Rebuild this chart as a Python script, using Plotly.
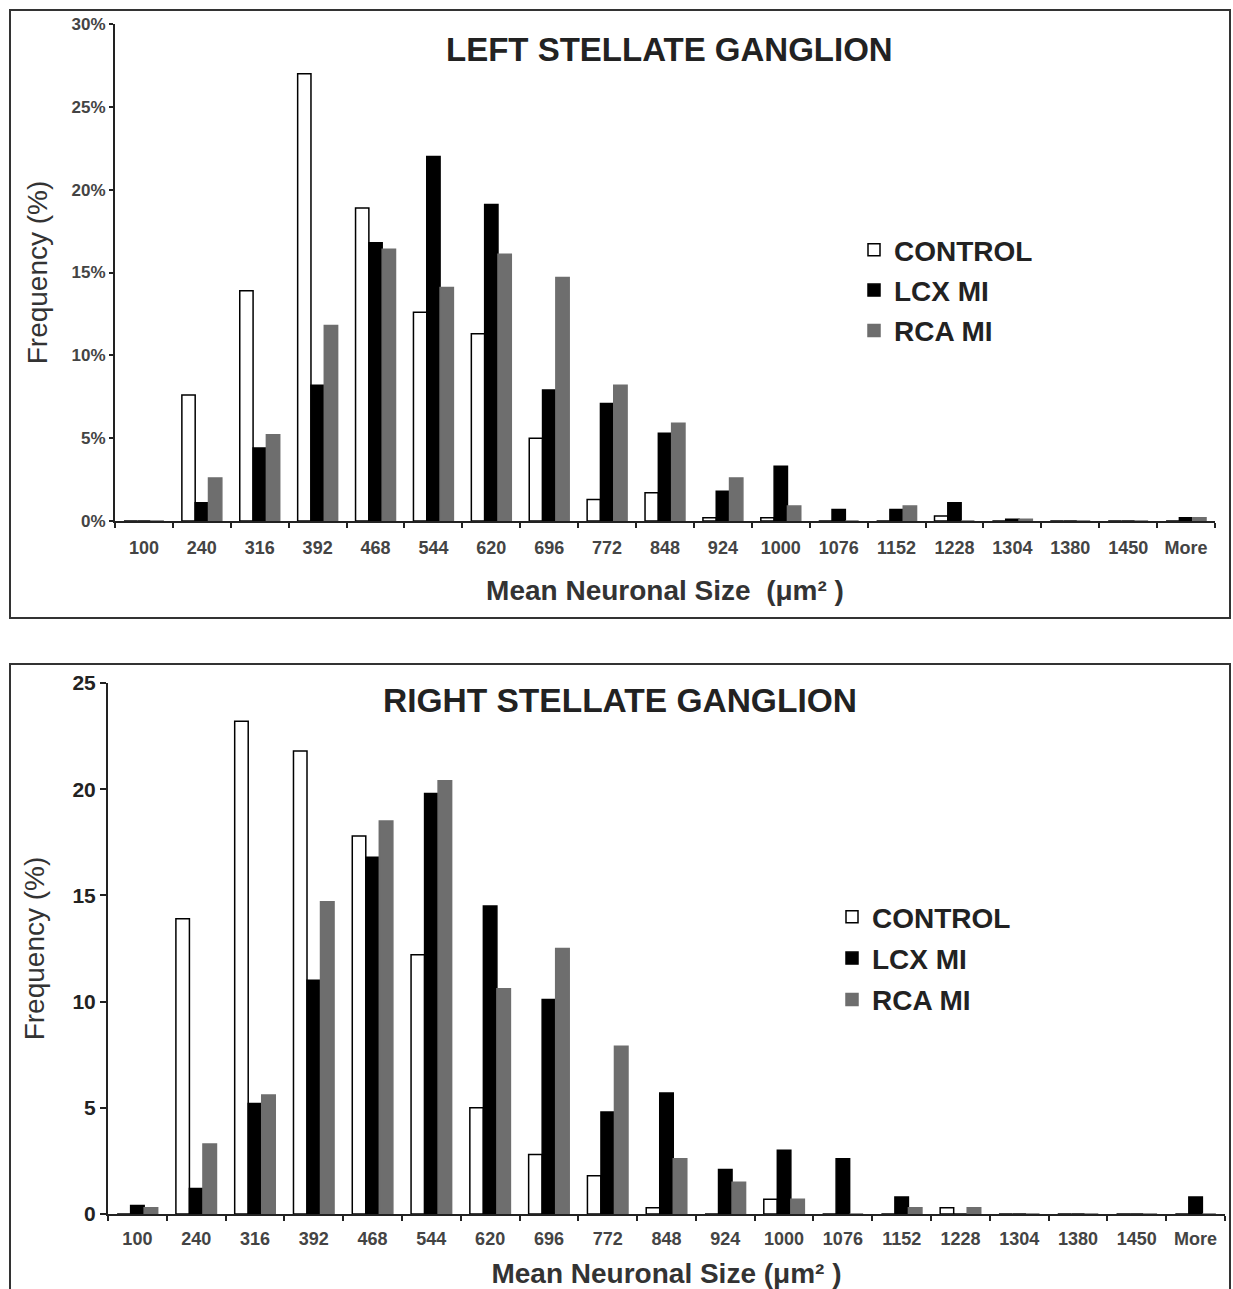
import plotly.graph_objects as go

categories = ["100", "240", "316", "392", "468", "544", "620", "696", "772", "848",
              "924", "1000", "1076", "1152", "1228", "1304", "1380", "1450", "More"]

left_control = [0, 7.6, 13.9, 27.0, 18.9, 12.6, 11.3, 5.0, 1.3, 1.7, 0.2, 0.2, 0, 0, 0.3, 0, 0, 0, 0]
left_lcx = [0, 1.1, 4.4, 8.2, 16.8, 22.0, 19.1, 7.9, 7.1, 5.3, 1.8, 3.3, 0.7, 0.7, 1.1, 0.1, 0, 0, 0.2]
left_rca = [0, 2.6, 5.2, 11.8, 16.4, 14.1, 16.1, 14.7, 8.2, 5.9, 2.6, 0.9, 0, 0.9, 0, 0.1, 0, 0, 0.2]

right_control = [0, 13.9, 23.2, 21.8, 17.8, 12.2, 5.0, 2.8, 1.8, 0.3, 0, 0.7, 0, 0, 0.3, 0, 0, 0, 0]
right_lcx = [0.4, 1.2, 5.2, 11.0, 16.8, 19.8, 14.5, 10.1, 4.8, 5.7, 2.1, 3.0, 2.6, 0.8, 0, 0, 0, 0, 0.8]
right_rca = [0.3, 3.3, 5.6, 14.7, 18.5, 20.4, 10.6, 12.5, 7.9, 2.6, 1.5, 0.7, 0, 0.3, 0.3, 0, 0, 0, 0]

series_names = ["CONTROL", "LCX MI", "RCA MI"]
left_ticks = [0, 5, 10, 15, 20, 25, 30]
left_ticktext = ["0%", "5%", "10%", "15%", "20%", "25%", "30%"]
right_ticks = [0, 5, 10, 15, 20, 25]

W, H = 1233, 1289
FONT = "Liberation Sans, Arial, sans-serif"
TXT = "#222222"

fills = ["white", "black", "#6e6e6e"]
lines = ["black", "black", "#6e6e6e"]

fig = go.Figure()

def add_panel(vals, xa, ya, legend):
    for i, (name, v) in enumerate(zip(series_names, vals)):
        fig.add_trace(go.Bar(
            x=categories, y=v, name=name,
            marker=dict(color=fills[i], line=dict(color=lines[i], width=1.5)),
            xaxis=xa, yaxis=ya, legend=legend, legendgroup=legend + name,
        ))

add_panel([left_control, left_lcx, left_rca], "x", "y", "legend")
add_panel([right_control, right_lcx, right_rca], "x2", "y2", "legend2")

def py(p):
    return 1 - p / H

axis_common = dict(
    showline=True, linecolor="#222", linewidth=2, ticks="outside",
    tickcolor="#222", tickwidth=2, showgrid=False, zeroline=False,
    automargin=False,
)

fig.update_layout(
    width=W, height=H, margin=dict(l=0, r=0, t=0, b=0, autoexpand=False),
    paper_bgcolor="white", plot_bgcolor="white",
    font=dict(family=FONT, color=TXT),
    barmode="group", bargap=0.31, bargroupgap=0,
    showlegend=True,
    xaxis=dict(domain=[115 / W, 1215 / W], anchor="y", type="category",
               tickson="boundaries", ticklen=5, ticklabelstandoff=9,
               tickfont=dict(size=18, color="#444", weight="bold"),
               title=dict(text="<b>Mean Neuronal Size  (μm² )</b>", font=dict(size=28, color="#333"), standoff=24),
               **axis_common),
    yaxis=dict(domain=[py(521), py(24)], anchor="x", range=[0, 30],
               tickvals=left_ticks, ticktext=left_ticktext, ticklen=4,
               tickfont=dict(size=17, color="#444", weight="bold"),
               title=dict(text="Frequency (%)", font=dict(size=28, color="#333"), standoff=16),
               **axis_common),
    xaxis2=dict(domain=[108 / W, 1225 / W], anchor="y2", type="category",
                tickson="boundaries", ticklen=5, ticklabelstandoff=7,
                tickfont=dict(size=18, color="#444", weight="bold"),
                title=dict(text="<b>Mean Neuronal Size (μm² )</b>", font=dict(size=28, color="#333"), standoff=17),
                **axis_common),
    yaxis2=dict(domain=[py(1214), py(683)], anchor="x2", range=[0, 25],
                tickvals=right_ticks, ticklen=6,
                tickfont=dict(size=21, color="#222", weight="bold"),
                title=dict(text="Frequency (%)", font=dict(size=28, color="#333"), standoff=20),
                **axis_common),
    legend=dict(x=854 / W, y=py(225), xanchor="left", yanchor="top",
                font=dict(size=28, color="#222", weight="bold"), bgcolor="rgba(0,0,0,0)",
                tracegroupgap=1, itemwidth=30),
    legend2=dict(x=832 / W, y=py(892), xanchor="left", yanchor="top",
                 font=dict(size=28, color="#222", weight="bold"), bgcolor="rgba(0,0,0,0)",
                 tracegroupgap=2, itemwidth=30),
    annotations=[
        dict(text="<b>LEFT STELLATE GANGLION</b>", x=669 / W, y=py(50), xref="paper", yref="paper",
             showarrow=False, font=dict(size=33, color="#222"), xanchor="center", yanchor="middle"),
        dict(text="<b>RIGHT STELLATE GANGLION</b>", x=620 / W, y=py(700), xref="paper", yref="paper",
             showarrow=False, font=dict(size=33.5, color="#222"), xanchor="center", yanchor="middle"),
    ],
    shapes=[
        dict(type="rect", xref="paper", yref="paper", x0=10 / W, x1=1230 / W, y0=py(618), y1=py(10),
             line=dict(color="#333", width=2)),
        dict(type="rect", xref="paper", yref="paper", x0=10 / W, x1=1230 / W, y0=py(1292), y1=py(664),
             line=dict(color="#333", width=2)),
    ],
)

fig.write_html("out.html", config={"displayModeBar": False},
               post_script="document.body.style.margin='0';document.body.style.overflow='hidden';")
